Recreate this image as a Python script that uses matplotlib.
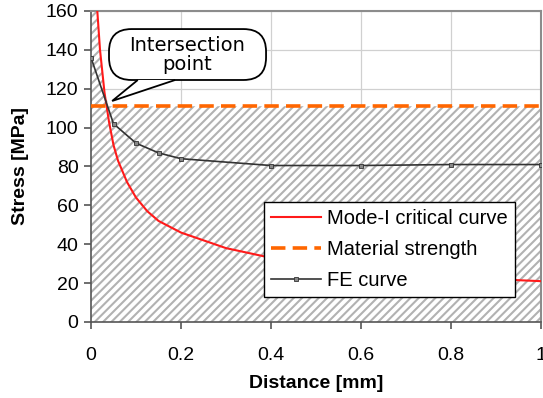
import numpy as np
import matplotlib.pyplot as plt
from matplotlib.patches import FancyBboxPatch, Polygon

plt.rcParams['font.family'] = ['Liberation Sans', 'DejaVu Sans']
plt.rcParams['hatch.color'] = '#b2b2b2'
plt.rcParams['hatch.linewidth'] = 1.5

# Mode-I critical curve
mode_x = [0.014, 0.02, 0.03, 0.04, 0.05, 0.06, 0.08, 0.1, 0.125, 0.15, 0.2,
          0.25, 0.3, 0.4, 0.5, 0.6, 0.7, 0.8, 0.9, 1.0]
mode_y = [160, 140, 118, 103, 91, 83, 72, 64, 57, 52, 46,
          42, 38, 33, 29.5, 27, 25, 23.5, 22, 21]

# material strength
strength = 111

# FE curve
fe_x = [0, 0.05, 0.1, 0.15, 0.2, 0.4, 0.6, 0.8, 1.0]
fe_y = [136, 102, 92, 87, 84, 80.5, 80.5, 81, 81]

fig = plt.figure(figsize=(5.43, 3.98), dpi=100)
ax = fig.add_axes([0.1676, 0.191, 0.8287, 0.7814])

# hatched safe region: below max(strength, critical curve)
fill_x = [0] + mode_x
fill_y = np.minimum(np.maximum([160] + mode_y, strength), 160)
ax.fill_between(fill_x, 0, fill_y, facecolor='white', edgecolor='#b2b2b2',
                hatch='////', linewidth=0, zorder=1)

ax.plot(mode_x, mode_y, color='#ff1a1a', lw=1.5, label='Mode-I critical curve', zorder=3)
ax.plot([0, 1], [strength, strength], color='#ff6600', lw=2.6, dashes=(4, 2),
        label='Material strength', zorder=4)
ax.plot(fe_x, fe_y, color='#333333', lw=1.2, marker='s', markersize=3,
        markerfacecolor='#888888', markeredgecolor='#333333', markeredgewidth=0.6,
        label='FE curve', zorder=3)

# speech bubble callout
bubble = FancyBboxPatch((0.04, 124.5), 0.349, 26.2,
                        boxstyle='round,pad=0,rounding_size=0.05',
                        mutation_aspect=231, facecolor='white', edgecolor='black',
                        lw=1.3, zorder=6)
ax.add_patch(bubble)
tail = Polygon([[0.104, 124.5], [0.047, 113.7], [0.187, 124.5]], closed=False,
               facecolor='white', edgecolor='black', lw=1.3, zorder=7)
ax.add_patch(tail)
ax.text(0.214, 137.5, 'Intersection\npoint', ha='center', va='center',
        fontsize=14, family='DejaVu Sans', linespacing=1.0, zorder=8)

ax.set_xlim(0, 1)
ax.set_ylim(0, 160)
ax.set_xticks([0, 0.2, 0.4, 0.6, 0.8, 1])
ax.set_xticklabels(['0', '0.2', '0.4', '0.6', '0.8', '1'])
ax.set_yticks(range(0, 161, 20))
ax.grid(color='#d0d0d0', lw=0.9, zorder=0)
ax.set_axisbelow(True)

for s in ['left', 'bottom']:
    ax.spines[s].set_color('#555555')
    ax.spines[s].set_linewidth(1.2)
for s in ['top', 'right']:
    ax.spines[s].set_color('#8c8c8c')
    ax.spines[s].set_linewidth(1.5)
ax.tick_params(direction='out', length=5, width=1.2, color='#555555',
               labelsize=14, pad=4)
ax.tick_params(axis='x', pad=13)

ax.set_xlabel('Distance [mm]', fontsize=14, fontweight='bold', labelpad=8)
ax.set_ylabel('Stress [MPa]', fontsize=14, fontweight='bold', labelpad=12)

leg = ax.legend(loc='lower right', bbox_to_anchor=(0.942, 0.08), fontsize=14.5,
                fancybox=False, edgecolor='black', framealpha=1,
                handlelength=2.5, borderpad=0.35, labelspacing=0.6,
                handletextpad=0.3, borderaxespad=0)
leg.get_frame().set_linewidth(1.0)
leg.set_zorder(10)

fig.savefig('out.png', dpi=100)
